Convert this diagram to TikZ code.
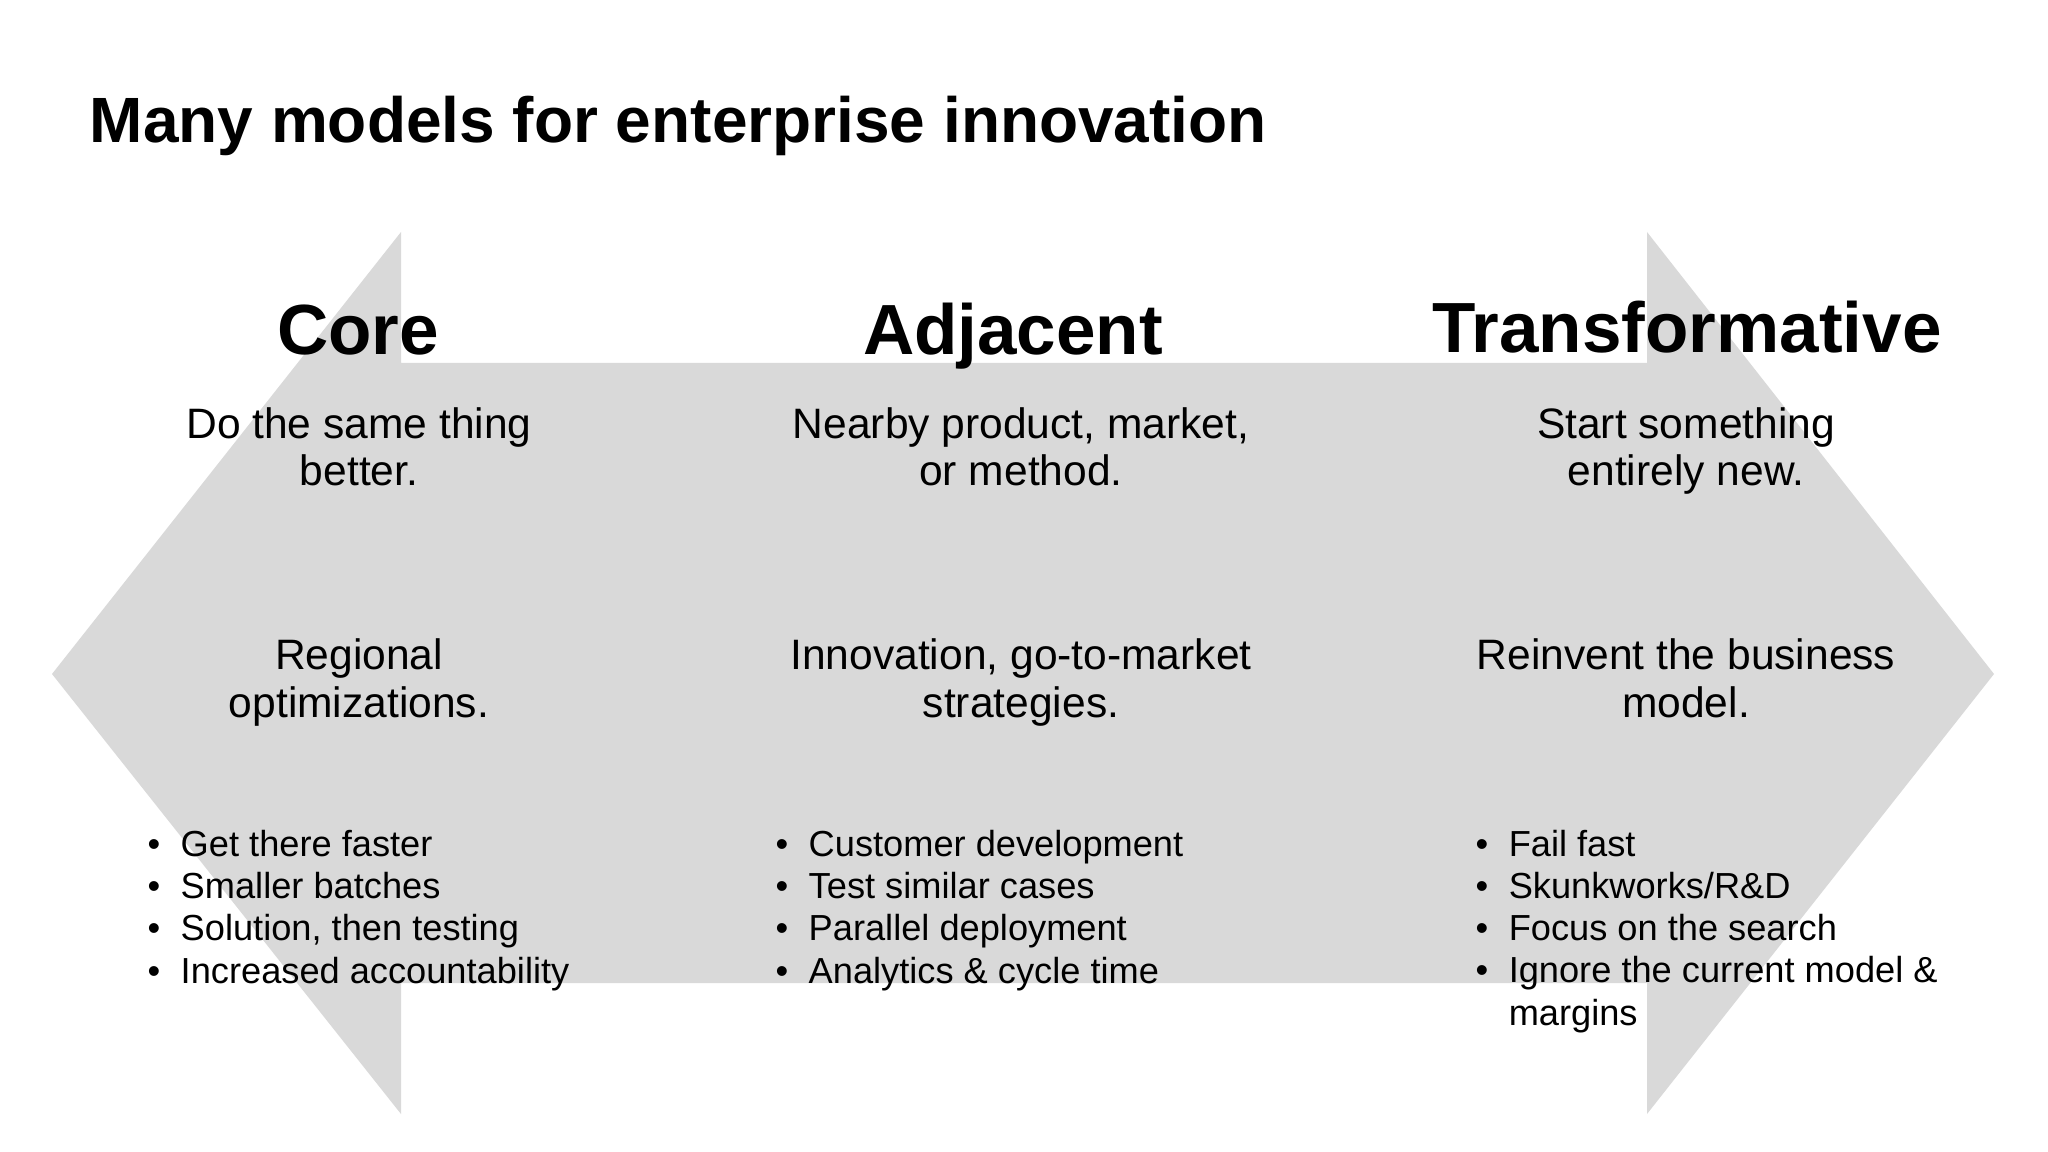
\documentclass[tikz,border=0pt]{standalone}
\usepackage{fontspec}
\setmainfont{Liberation Sans}
\definecolor{arrowgray}{HTML}{D9D9D9}
\newcommand{\bul}{\makebox[9.4pt][l]{\textbullet}}
\newcommand{\bulgap}{\hspace*{9.4pt}}
\begin{document}
\begin{tikzpicture}[x=0.01cm,y=-0.01cm,
  titlestyle/.style={font=\fontsize{18.2}{21}\selectfont\bfseries, anchor=base west, inner sep=0pt},
  headstyle/.style={font=\fontsize{20.2}{24}\selectfont\bfseries, anchor=base, inner sep=0pt},
  substyle/.style={font=\fontsize{12.1}{13.37}\selectfont, anchor=base, align=center, inner sep=0pt},
  liststyle/.style={font=\fontsize{10.3}{11.95}\selectfont, anchor=base west, align=left, inner sep=0pt}]
\useasboundingbox (0,0) rectangle (2048,1152);
\fill[white] (0,0) rectangle (2048,1152);
\fill[arrowgray] (52,674) -- (401,232) -- (401,363) -- (1647,363) -- (1647,232) -- (1994,674)
  -- (1647,1114) -- (1647,983) -- (401,983) -- (401,1114) -- cycle;
\node[titlestyle] (title) at (89,143) {Many models for enterprise innovation};
\node[headstyle] (core) at (358,355) {Core};
\node[headstyle] (adj) at (1013,355) {Adjacent};
\node[headstyle] (trans) at (1687,353) {Transformative};
\node[substyle] (core1) at (359,486) {Do the same thing\\better.};
\node[substyle] (adj1) at (1021,486) {Nearby product, market,\\or method.};
\node[substyle] (trans1) at (1686,486) {Start something\\entirely new.};
\node[substyle] (core2) at (359,717) {Regional\\optimizations.};
\node[substyle] (adj2) at (1021,717) {Innovation, go-to-market\\strategies.};
\node[substyle] (trans2) at (1686,717) {Reinvent the business\\model.};
\node[liststyle] (core3) at (147,983) {\bul Get there faster\\\bul Smaller batches\\\bul Solution, then testing\\\bul Increased accountability};
\node[liststyle] (adj3) at (775,983) {\bul Customer development\\\bul Test similar cases\\\bul Parallel deployment\\\bul Analytics \& cycle time};
\node[liststyle] (trans3) at (1475,1025) {\bul Fail fast\\\bul Skunkworks/R\&D\\\bul Focus on the search\\\bul Ignore the current model \&\\\bulgap margins};
\end{tikzpicture}
\end{document}
